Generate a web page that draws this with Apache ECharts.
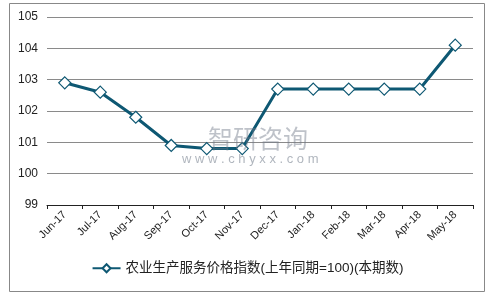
<!DOCTYPE html>
<html><head><meta charset="utf-8">
<script src="https://cdn.jsdelivr.net/npm/echarts@6/dist/echarts.min.js"></script>
<style>html,body{margin:0;padding:0;background:#fff}#c{width:495px;height:298px}</style>
</head><body><div id="c"></div>
<script>
var categories = ['Jun-17','Jul-17','Aug-17','Sep-17','Oct-17','Nov-17','Dec-17','Jan-18','Feb-18','Mar-18','Apr-18','May-18'];
var values = [102.9, 102.6, 101.8, 100.9, 100.8, 100.8, 102.7, 102.7, 102.7, 102.7, 102.7, 104.1];
var seriesName = '农业生产服务价格指数(上年同期=100)(本期数)';
var color = '#0e5873';
var font = '"Liberation Sans", Arial, "Noto Sans CJK SC", sans-serif';
var chart = echarts.init(document.getElementById('c'));
chart.setOption({
  animation: false,
  textStyle: {fontFamily: font},
  graphic: [
    {type: 'rect', shape: {x: 9.5, y: 3.5, width: 475, height: 288}, style: {fill: 'none', stroke: '#888', lineWidth: 1}, z: -1},
    {type: 'text', left: 208, top: 126, style: {text: '智研咨询', fontSize: 25, fill: 'rgba(110,120,135,0.45)', fontFamily: '"Noto Sans CJK SC", sans-serif'}, z: 10},
    {type: 'text', left: 182, top: 153, style: {text: 'w w w . c h y x x . c o m', fontSize: 13, fill: 'rgba(110,120,135,0.55)', fontFamily: font}, z: 10}
  ],
  grid: {left: 47, right: 22, top: 17, bottom: 93},
  xAxis: {
    type: 'category', data: categories, boundaryGap: true,
    axisLine: {lineStyle: {color: '#222', width: 1}},
    axisTick: {show: true, interval: 0, length: 4, lineStyle: {color: '#222'}},
    axisLabel: {rotate: 45, interval: 0, fontSize: 11, color: '#222', margin: 8}
  },
  yAxis: {
    type: 'value', min: 99, max: 105, interval: 1,
    axisLine: {show: false}, axisTick: {show: false},
    axisLabel: {fontSize: 12, color: '#222', margin: 9},
    splitLine: {lineStyle: {color: '#8a8a8a', width: 1}}
  },
  legend: {
    bottom: 18, left: 'center', itemWidth: 28, itemHeight: 10, itemGap: 4,
    textStyle: {fontSize: 13.5, color: '#222', fontFamily: font},
    data: [{name: seriesName}]
  },
  series: [{
    name: seriesName, type: 'line', data: values,
    symbol: 'diamond', symbolSize: 12,
    lineStyle: {color: color, width: 3},
    itemStyle: {color: '#fff', borderColor: color, borderWidth: 1.2}
  }]
});
</script></body></html>
